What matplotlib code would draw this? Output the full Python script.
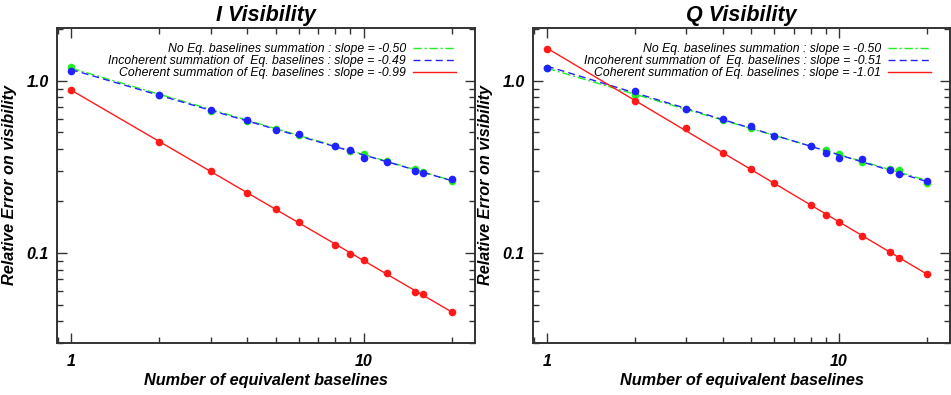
import matplotlib.pyplot as plt
import numpy as np

plt.rcParams['font.family'] = ['Liberation Sans', 'DejaVu Sans']

# Number of equivalent baselines
n_base = [1, 2, 3, 4, 5, 6, 8, 9, 10, 12, 15, 16, 20]

# I visibility: relative errors
i_none = [1.20, 0.83, 0.67, 0.585, 0.525, 0.483, 0.418, 0.388, 0.376, 0.34, 0.308, 0.296, 0.26]
i_incoh = [1.14, 0.83, 0.675, 0.59, 0.52, 0.491, 0.415, 0.393, 0.356, 0.337, 0.297, 0.289, 0.27]
i_coh = [0.883, 0.44, 0.30, 0.224, 0.179, 0.150, 0.111, 0.098, 0.0906, 0.0765, 0.0589, 0.0576, 0.0453]

# Q visibility: relative errors
q_none = [1.18, 0.826, 0.68, 0.592, 0.53, 0.478, 0.418, 0.393, 0.376, 0.337, 0.305, 0.301, 0.256]
q_incoh = [1.19, 0.868, 0.685, 0.597, 0.547, 0.478, 0.418, 0.381, 0.356, 0.35, 0.304, 0.286, 0.26]
q_coh = [1.52, 0.76, 0.532, 0.38, 0.305, 0.254, 0.19, 0.165, 0.152, 0.125, 0.1016, 0.0935, 0.075]

titles = ['I Visibility', 'Q Visibility']
slopes_txt = [['-0.50', '-0.49', '-0.99'], ['-0.50', '-0.51', '-1.01']]
labels = ['No Eq. baselines summation : slope = ',
          'Incoherent summation of  Eq. baselines : slope = ',
          'Coherent summation of Eq. baselines : slope = ']

green, blue, red = '#22ee22', '#2222ff', '#ff1a1a'
styles = [(green, (0, (6, 2, 1.5, 2))), (blue, (0, (5, 3))), (red, '-')]

fig = plt.figure(figsize=(9.51, 3.95), dpi=100)
rects = [[0.060, 0.132, 0.4395, 0.797], [0.5605, 0.132, 0.4385, 0.797]]
datasets = [[i_none, i_incoh, i_coh], [q_none, q_incoh, q_coh]]

x = np.array(n_base, dtype=float)
for k in range(2):
    ax = fig.add_axes(rects[k])
    handles = []
    for j, ys in enumerate(datasets[k]):
        col, ls = styles[j]
        y = np.array(ys)
        # straight power-law fit through the points
        p = np.polyfit(np.log10(x), np.log10(y), 1)
        xf = np.array([x[0], x[-1]])
        line, = ax.plot(xf, 10 ** np.polyval(p, np.log10(xf)), color=col, ls=ls, lw=1.0,
                        label=labels[j] + slopes_txt[k][j], zorder=2 + j)
        ax.plot(x, y, 'o', color=col, ms=5.5, mec='none', zorder=2 + j)
        handles.append(line)
    ax.set_xscale('log')
    ax.set_yscale('log')
    ax.set_xlim(0.896, 24)
    ax.set_ylim(0.030, 2.02)
    ax.set_xticks([1, 10])
    ax.set_xticklabels(['1', '10'])
    ax.set_yticks([0.1, 1.0])
    ax.set_yticklabels(['0.1', '1.0'])
    ax.tick_params(which='both', direction='in', top=True, right=True, width=1.0, color='#333333')
    ax.tick_params(which='major', length=7, labelsize=11.5)
    ax.tick_params(axis='x', which='major', pad=8)
    ax.tick_params(axis='y', which='major', pad=6)
    ax.tick_params(which='minor', length=4)
    for lab in ax.get_xticklabels() + ax.get_yticklabels():
        lab.set_fontweight('bold')
        lab.set_fontstyle('italic')
    for sp in ax.spines.values():
        sp.set_linewidth(1.4)
        sp.set_color('#333333')
    ax.set_title(titles[k], fontsize=15.5, fontweight='bold', fontstyle='italic', pad=5)
    ax.set_xlabel('Number of equivalent baselines', fontsize=11.7, fontweight='bold', fontstyle='italic', labelpad=3)
    ax.set_ylabel('Relative Error on visibility', fontsize=11.7, fontweight='bold', fontstyle='italic', labelpad=7)
    ax.legend(handles=handles, loc='upper right', frameon=False, markerfirst=False,
              prop={'size': 8.85, 'style': 'italic'}, handlelength=3.5, handletextpad=0.55,
              labelspacing=0.0, borderpad=0, borderaxespad=0, bbox_to_anchor=(0.9545, 0.951))

fig.savefig('out.png', dpi=100)
